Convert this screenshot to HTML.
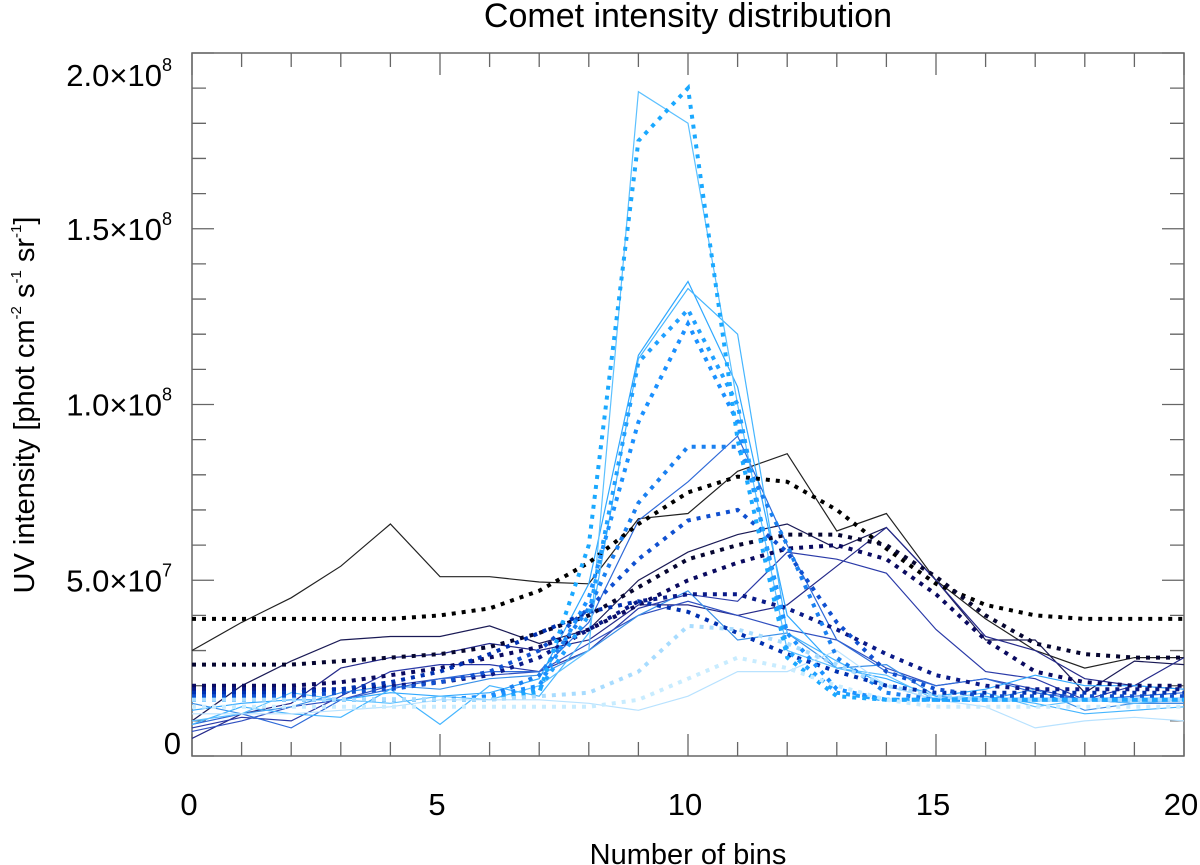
<!DOCTYPE html>
<html><head><meta charset="utf-8"><style>
body{margin:0;background:#fff}
svg{display:block;font-family:"Liberation Sans",sans-serif}
</style></head><body>
<svg id="chart" width="1200" height="865" viewBox="0 0 1200 865" xmlns="http://www.w3.org/2000/svg">
<text x="688" y="27" font-size="34" text-anchor="middle">Comet intensity distribution</text>
<text x="688" y="864" font-size="29" text-anchor="middle">Number of bins</text>
<text transform="translate(34,405) rotate(-90)" font-size="29" text-anchor="middle">UV intensity [phot cm<tspan font-size="15" dy="-13">-2</tspan><tspan dy="13"> s</tspan><tspan font-size="15" dy="-13">-1</tspan><tspan dy="13"> sr</tspan><tspan font-size="15" dy="-13">-1</tspan><tspan dy="13">]</tspan></text>
<g id="axes"></g>
<g id="series"></g>
</svg>
<script>
const xTicks=[0,5,10,15,20];
const yTickLabels=["0","5.0×10","1.0×10","1.5×10","2.0×10"];
const yTickExp=["","7","8","8","8"];
const yTickValues=[0,5,10,15,20];
// values in units of 1e7
const solid1=[3.0,3.8,4.5,5.4,6.6,5.1,5.1,4.95,4.9,6.75,6.9,8.1,8.6,6.4,6.9,5.0,3.9,3.0,2.5,2.8,2.8];
const solid2=[1.0,2.0,2.7,3.3,3.4,3.4,3.7,3.2,3.6,5.0,5.8,6.3,6.6,5.9,6.5,5.0,3.3,3.3,1.8,2.7,2.6];
const solid3=[0.5,1.2,1.5,2.5,2.8,2.9,3.2,3.0,3.3,4.3,4.3,4.0,4.3,5.4,6.5,5.0,3.4,3.0,2.2,2.0,2.8];
const solid4=[0.8,1.1,1.0,1.7,2.4,2.6,2.6,2.4,3.0,4.2,4.6,4.4,5.8,5.6,5.2,3.6,2.4,2.2,1.6,2.0,1.9];
const solid5=[0.7,1.0,1.4,1.6,2.0,2.2,2.3,2.4,3.2,4.0,4.4,4.0,3.6,3.3,2.5,2.0,2.2,1.9,1.6,1.5,1.5];
const solid6=[0.9,1.2,0.8,1.6,1.9,2.2,2.4,2.4,3.8,6.7,7.8,9.1,6.0,3.3,2.4,2.0,2.2,1.8,1.6,1.7,1.8];
const solid7=[1.5,1.2,1.4,1.8,2.0,1.9,2.2,2.3,3.0,4.0,4.7,3.3,3.5,2.5,2.6,1.7,1.6,1.9,1.3,1.5,1.5];
const solid8=[1.3,1.5,1.6,1.6,1.8,1.7,1.8,2.2,4.9,11.4,13.5,10.5,4.0,2.5,2.2,1.7,1.9,2.3,2.0,2.0,1.9];
const solid9=[0.9,1.4,1.2,1.1,1.9,0.9,2.0,1.7,3.5,11.3,13.3,12.0,3.5,2.7,2.0,1.6,1.7,1.5,1.2,1.3,1.4];
const solid10=[1.0,1.2,1.8,1.6,1.5,1.7,1.6,2.0,3.0,18.9,18.0,10.0,3.0,2.5,2.3,1.6,1.8,1.4,1.6,1.5,1.6];
const solid11=[1.2,1.2,1.2,1.3,1.4,1.6,1.6,1.6,1.5,1.3,1.7,2.4,2.4,3.0,2.0,1.6,1.4,0.8,1.0,1.1,1.0];
const dotted1=[3.9,3.9,3.9,3.9,3.9,4.0,4.2,4.7,5.5,6.6,7.5,7.95,7.8,7.0,5.9,4.9,4.3,4.0,3.9,3.9,3.9];
const dotted2=[2.6,2.6,2.6,2.7,2.8,2.9,3.1,3.5,4.0,4.8,5.6,6.0,6.3,6.3,6.0,5.1,4.0,3.2,2.9,2.8,2.8];
const dotted3=[2.0,2.0,2.0,2.1,2.3,2.5,2.8,3.1,3.6,4.3,5.0,5.5,5.9,6.0,5.6,4.6,3.3,2.4,2.1,2.0,2.0];
const dotted4=[1.9,1.9,1.9,1.9,2.0,2.1,2.3,2.8,3.6,4.4,4.6,4.6,4.2,3.6,2.9,2.3,2.0,1.9,1.9,1.9,1.9];
const dotted5=[1.8,1.8,1.8,1.9,2.1,2.4,2.9,3.5,4.1,4.4,4.1,3.5,2.9,2.4,2.0,1.8,1.8,1.8,1.8,1.8,1.8];
const dotted6=[1.7,1.7,1.7,1.8,1.9,2.1,2.4,3.0,4.2,5.6,6.7,7.0,5.8,3.8,2.4,1.9,1.7,1.7,1.7,1.7,1.7];
const dotted7=[1.6,1.6,1.6,1.6,1.6,1.6,1.7,2.3,4.2,7.2,8.8,8.8,6.0,2.8,1.8,1.6,1.6,1.6,1.6,1.6,1.6];
const dotted8=[1.6,1.6,1.6,1.6,1.6,1.6,1.7,2.0,4.5,9.5,12.3,9.5,3.5,1.9,1.6,1.6,1.6,1.6,1.6,1.6,1.6];
const dotted9=[1.6,1.6,1.6,1.6,1.6,1.6,1.6,1.9,4.0,11.2,12.7,10.0,3.0,1.8,1.6,1.6,1.6,1.6,1.6,1.6,1.6];
const dotted10=[1.6,1.6,1.6,1.6,1.6,1.6,1.6,1.8,6.0,17.5,19.0,9.0,2.8,1.7,1.6,1.6,1.6,1.6,1.6,1.6,1.6];
const dotted11=[1.6,1.6,1.6,1.6,1.6,1.6,1.6,1.7,1.8,2.4,3.7,3.6,3.2,2.6,2.0,1.7,1.6,1.6,1.6,1.6,1.6];
const dotted12=[1.4,1.4,1.4,1.4,1.4,1.4,1.4,1.4,1.4,1.6,2.2,2.8,2.5,2.0,1.6,1.4,1.4,1.4,1.4,1.4,1.4];

const L=192,R=1184,T=53,B=756;
const X=v=>L+(R-L)*v/20;
const Y=v=>B-(B-T)*v/20;
const NS="http://www.w3.org/2000/svg";
const axes=document.getElementById('axes'),ser=document.getElementById('series');
function mk(tag,parent){const e=document.createElementNS(NS,tag);parent.appendChild(e);return e;}
const frame=mk('rect',axes);


frame.setAttribute('x',L);frame.setAttribute('y',T);frame.setAttribute('width',R-L);frame.setAttribute('height',B-T);
frame.setAttribute('fill','none');frame.setAttribute('stroke','#666');frame.setAttribute('stroke-width','1.5');
let tk='';
for(let i=0;i<=20;i++){const x=X(i),len=i%5==0?22:14;tk+=`M${x},${B}v${-len}M${x},${T}v${len}`;}
for(let i=0;i<=20;i++){const y=Y(i),len=i%5==0?22:14;tk+=`M${L},${y}h${len}M${R},${y}h${-len}`;}
const ticks=mk('path',axes);


ticks.setAttribute('d',tk);ticks.setAttribute('stroke','#666');ticks.setAttribute('stroke-width','1.3');
xTicks.forEach(v=>{const t=mk('text',axes);


t.setAttribute('x',X(v)-3);t.setAttribute('y',815);t.setAttribute('font-size','31');t.setAttribute('text-anchor','middle');t.textContent=v;});
yTickValues.forEach((v,i)=>{const t=mk('text',axes);


let y=Y(v)+11; if(i==0)y=B-2; if(i==4)y=T+33;
t.setAttribute('x',i==0?181:172);t.setAttribute('y',y);t.setAttribute('font-size','31');t.setAttribute('text-anchor','end');
t.textContent=yTickLabels[i];
if(yTickExp[i]){const s=mk('tspan',t);s.setAttribute('font-size','18');s.setAttribute('dy','-15');s.textContent=yTickExp[i];}});
const solids=[solid1,solid2,solid3,solid4,solid5,solid6,solid7,solid8,solid9,solid10,solid11];
const sCol=['#222','#1a1a55','#252a8a','#2a3aa8','#3050c0','#2f6ad8','#3a90e8','#30a8ff','#45b5ff','#5cc0ff','#b8e2ff'];
const dotted=[dotted1,dotted2,dotted3,dotted4,dotted5,dotted6,dotted7,dotted8,dotted9,dotted10,dotted11,dotted12];
const dCol=['#000','#060630','#0a0a60','#0a1a88','#0030b0','#1050d0','#1a80f0','#1a90ff','#20a0ff','#1aa8ff','#a8dcff','#c8ecff'];
function pts(a){return a.map((v,i)=>X(i).toFixed(1)+','+Y(v).toFixed(1)).join(' ');}
solids.forEach((a,k)=>{const p=mk('polyline',ser);


p.setAttribute('points',pts(a));p.setAttribute('fill','none');p.setAttribute('stroke',sCol[k]);p.setAttribute('stroke-width','1.2');});
dotted.forEach((a,k)=>{const p=mk('polyline',ser);


p.setAttribute('points',pts(a));p.setAttribute('fill','none');p.setAttribute('stroke',dCol[k]);p.setAttribute('stroke-width','4');p.setAttribute('stroke-dasharray','4,6');});
</script>
</body></html>
